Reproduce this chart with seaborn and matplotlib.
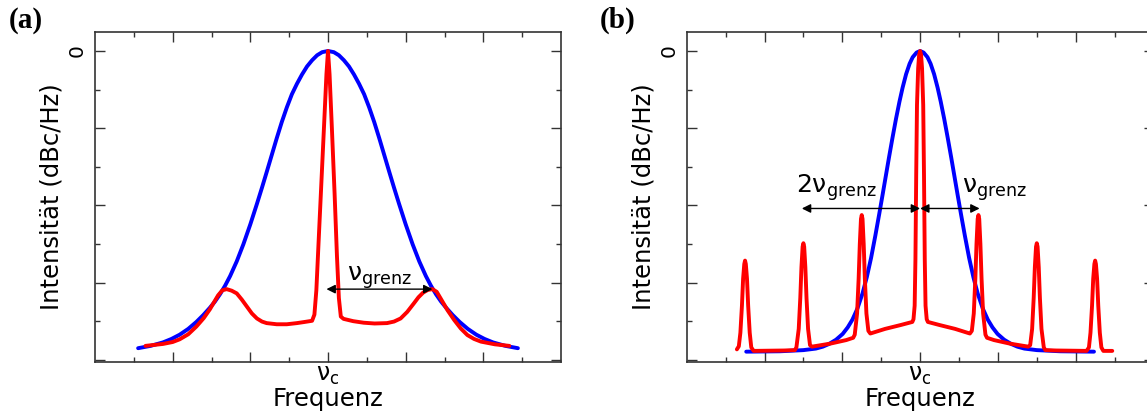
import matplotlib
matplotlib.use("Agg")
import matplotlib.pyplot as plt
import seaborn as sns

# ---------------- data (x in units of tick spacing around nu_c, y in dB) ----------------
blue_a_x = [-4.89, -4.57, -4.25, -4.03, -3.82, -3.60, -3.39, -3.21, -3.04, -2.91, -2.78, -2.65,
            -2.52, -2.35, -2.18, -2.00, -1.83, -1.70, -1.58, -1.45, -1.32, -1.19, -1.06, -0.93,
            -0.80, -0.67, -0.54, -0.41, -0.28, -0.15, 0.00,
            0.15, 0.28, 0.41, 0.54, 0.67, 0.80, 0.93, 1.06, 1.19, 1.32, 1.45, 1.58, 1.70, 1.83,
            2.00, 2.18, 2.35, 2.52, 2.65, 2.78, 2.91, 3.04, 3.21, 3.39, 3.60, 3.82, 4.03, 4.25,
            4.57, 4.89]
blue_a_y = [-77.0, -76.4, -75.5, -74.6, -73.5, -72.0, -70.2, -68.4, -66.5, -64.9, -63.0, -60.8,
            -58.3, -54.5, -50.1, -44.9, -39.6, -35.4, -31.4, -27.0, -22.6, -18.4, -14.6, -11.2,
            -8.5, -6.1, -4.0, -2.4, -1.1, -0.3, 0.0,
            -0.3, -1.1, -2.4, -4.0, -6.1, -8.5, -11.2, -14.6, -18.4, -22.6, -27.0, -31.4, -35.4,
            -39.6, -44.9, -50.1, -54.5, -58.3, -60.8, -63.0, -64.9, -66.5, -68.4, -70.2, -72.0,
            -73.5, -74.6, -75.5, -76.4, -77.0]

red_a_x = [-4.70, -4.25, -4.00, -3.82, -3.60, -3.39, -3.20, -3.04, -2.93, -2.83, -2.72, -2.61,
           -2.48, -2.35, -2.22, -2.09, -1.96, -1.83, -1.70, -1.58, -1.32, -1.06, -0.80, -0.60,
           -0.41, -0.35, -0.30, -0.24, -0.17, -0.10, -0.04, 0.00, 0.04, 0.10, 0.17, 0.23, 0.28,
           0.33, 0.40, 0.65, 0.92, 1.20, 1.52, 1.70, 1.87, 2.04, 2.21, 2.33, 2.45, 2.57, 2.69,
           2.80, 2.90, 3.08, 3.25, 3.42, 3.59, 3.76, 3.94, 4.30, 4.67]
red_a_y = [-76.4, -75.9, -75.4, -74.7, -73.4, -71.4, -69.2, -66.9, -65.0, -63.3, -62.0, -61.7,
           -62.1, -62.8, -64.4, -66.2, -68.0, -69.3, -70.1, -70.5, -70.8, -70.8, -70.5, -70.2,
           -69.9, -68.3, -62.0, -49.0, -34.0, -19.0, -6.0, 0.0, -6.0, -20.0, -37.0, -53.0, -64.0,
           -68.8, -69.4, -70.0, -70.4, -70.6, -70.5, -70.1, -69.3, -67.6, -65.4, -63.8, -62.6,
           -61.9, -61.7, -62.4, -64.1, -67.2, -69.7, -71.9, -73.6, -74.6, -75.3, -76.0, -76.4]

blue_b_x = [-4.47, -3.60, -3.00, -2.68, -2.50, -2.34, -2.16, -1.99, -1.86, -1.74, -1.61, -1.48,
            -1.37, -1.26, -1.15, -1.05, -0.96, -0.88, -0.80, -0.71, -0.62, -0.53, -0.45, -0.36,
            -0.27, -0.19, -0.09, 0.00,
            0.09, 0.19, 0.27, 0.36, 0.45, 0.53, 0.62, 0.71, 0.80, 0.88, 0.96, 1.05, 1.15, 1.26,
            1.37, 1.48, 1.61, 1.74, 1.86, 1.99, 2.16, 2.34, 2.50, 2.68, 3.00, 3.60, 4.47]
blue_b_y = [-77.9, -77.8, -77.5, -77.1, -76.6, -75.9, -74.8, -73.3, -71.6, -69.6, -66.7, -62.8,
            -58.6, -53.6, -47.8, -42.2, -37.0, -32.3, -27.6, -22.5, -17.6, -13.1, -9.5, -6.0,
            -3.3, -1.6, -0.4, 0.0,
            -0.4, -1.6, -3.3, -6.0, -9.5, -13.1, -17.6, -22.5, -27.6, -32.3, -37.0, -42.2, -47.8,
            -53.6, -58.6, -62.8, -66.7, -69.6, -71.6, -73.3, -74.8, -75.9, -76.6, -77.1, -77.5,
            -77.8, -77.9]

red_b_x = [-4.71, -4.66, -4.62, -4.58, -4.55, -4.52, -4.50, -4.48, -4.45, -4.42, -4.38, -4.34, -4.28,
           -3.50, -3.22,
           -3.18, -3.12, -3.08, -3.05, -3.02, -3.00, -2.98, -2.95, -2.92, -2.88, -2.83, -2.78,
           -2.30, -1.90, -1.72,
           -1.68, -1.62, -1.58, -1.55, -1.52, -1.50, -1.48, -1.45, -1.42, -1.38, -1.33, -1.28,
           -0.90, -0.50, -0.20,
           -0.17, -0.14, -0.12, -0.10, -0.08, -0.05, -0.025, 0.00, 0.025, 0.05, 0.08, 0.10, 0.12, 0.14, 0.17,
           0.20, 0.50, 0.90,
           1.28, 1.33, 1.38, 1.42, 1.45, 1.48, 1.50, 1.52, 1.55, 1.58, 1.62, 1.68,
           1.72, 1.90, 2.30,
           2.78, 2.83, 2.88, 2.92, 2.95, 2.98, 3.00, 3.02, 3.05, 3.08, 3.12, 3.18,
           3.22, 3.50,
           4.28, 4.34, 4.38, 4.42, 4.45, 4.48, 4.50, 4.52, 4.55, 4.58, 4.62, 4.66, 4.71,
           4.94]
red_b_y = [-77.3, -76.5, -73.0, -66.0, -59.0, -55.2, -54.3, -55.2, -59.0, -66.0, -73.0, -76.8, -77.7,
           -77.6, -77.5,
           -76.8, -72.0, -64.0, -56.0, -50.7, -49.8, -50.7, -56.0, -64.0, -72.0, -76.2, -76.6,
           -75.8, -74.9, -74.3,
           -73.5, -68.0, -59.0, -50.0, -43.5, -42.5, -43.5, -50.0, -59.0, -68.0, -72.5, -73.2,
           -72.0, -71.0, -70.2,
           -69.5, -66.0, -54.0, -32.0, -14.0, -4.5, -1.0, 0.0, -1.0, -4.5, -14.0, -32.0, -54.0, -66.0, -69.5,
           -70.2, -71.0, -72.0,
           -73.2, -72.5, -68.0, -59.0, -50.0, -43.5, -42.5, -43.5, -50.0, -59.0, -68.0, -73.5,
           -74.3, -74.9, -75.8,
           -76.6, -76.2, -72.0, -64.0, -56.0, -50.7, -49.8, -50.7, -56.0, -64.0, -72.0, -76.8,
           -77.5, -77.6,
           -77.7, -76.8, -73.0, -66.0, -59.0, -55.2, -54.3, -55.2, -59.0, -66.0, -73.0, -76.8, -77.7,
           -77.7]

x_major = [-4, -2, 0, 2, 4]
x_major_labels = ["", "", r"$\mathregular{\nu_c}$", "", ""]
x_minor = [-5, -3, -1, 1, 3, 5]
y_major = [-80, -60, -40, -20, 0]
y_major_labels = ["", "", "", "", "0"]
y_minor = [-70, -50, -30, -10]

xlabel = "Frequenz"
ylabel = "Intensität (dBc/Hz)"

# ---------------- style ----------------
sns.set_theme(style="ticks")
plt.rcParams["font.family"] = ["DejaVu Sans"]
plt.rcParams["mathtext.fontset"] = "dejavusans"
plt.rcParams["text.color"] = "black"
plt.rcParams["axes.labelcolor"] = "black"
plt.rcParams["xtick.labelcolor"] = "black"
plt.rcParams["ytick.labelcolor"] = "black"

W, H = 1147, 412
fig = plt.figure(figsize=(W / 100, H / 100), dpi=100)
ax_a = fig.add_axes([95 / W, 50.3 / H, 466 / W, 330 / H])
ax_b = fig.add_axes([686.7 / W, 50.3 / H, 466.8 / W, 330 / H])

BLUE = "#0000ff"
RED = "#ff0000"
LW = 2.8

for ax, bx, by, rx, ry in [(ax_a, blue_a_x, blue_a_y, red_a_x, red_a_y),
                           (ax_b, blue_b_x, blue_b_y, red_b_x, red_b_y)]:
    sns.lineplot(x=bx, y=by, ax=ax, color=BLUE, lw=LW, sort=False, estimator=None)
    sns.lineplot(x=rx, y=ry, ax=ax, color=RED, lw=LW, sort=False, estimator=None)
    for ln in ax.lines:
        ln.set_solid_joinstyle("round")
    ax.set_xlim(-6, 6)
    ax.set_ylim(-80.5, 5)
    ax.set_xticks(x_major)
    ax.set_xticklabels(x_major_labels)
    ax.set_xticks(x_minor, minor=True)
    ax.set_yticks(y_major)
    ax.set_yticklabels(y_major_labels)
    ax.set_yticks(y_minor, minor=True)
    ax.tick_params(which="both", direction="in", top=True, right=True, color="#333333")
    ax.tick_params(which="major", length=7, width=1.0)
    ax.tick_params(which="minor", length=3.6, width=1.0)
    ax.tick_params(axis="x", which="major", pad=1, labelsize=17)
    ax.tick_params(axis="y", which="major", pad=6, labelsize=14.5, labelrotation=90)
    for s in ax.spines.values():
        s.set_color("#333333")
        s.set_linewidth(1.2)
    ax.set_xlabel(xlabel, fontsize=17.5, labelpad=0)
    ax.set_ylabel(ylabel, fontsize=17.5, labelpad=3)
    for lab in ax.get_yticklabels():
        lab.set_va("center")

arrow_kw = dict(arrowstyle="<|-|>", color="black", lw=1.0, mutation_scale=13,
                shrinkA=0, shrinkB=0)

# panel (a) annotation
ax_a.annotate("", xy=(2.69, -61.7), xytext=(-0.04, -61.7), arrowprops=arrow_kw)
ax_a.text(1.33, -59.6, r"$\mathregular{\nu_{grenz}}$", ha="center", va="baseline", fontsize=18)

# panel (b) annotations
ax_b.annotate("", xy=(-3.04, -40.8), xytext=(0.0, -40.8), arrowprops=arrow_kw)
ax_b.annotate("", xy=(1.53, -40.8), xytext=(0.0, -40.8), arrowprops=arrow_kw)
ax_b.text(-2.16, -36.8, r"$\mathregular{2\nu_{grenz}}$", ha="center", va="baseline", fontsize=18)
ax_b.text(1.91, -36.8, r"$\mathregular{\nu_{grenz}}$", ha="center", va="baseline", fontsize=18)

fig.text(9 / W, 1 - 7 / H, "(a)", family="Liberation Serif", fontweight="bold",
         fontsize=21, ha="left", va="top")
fig.text(600 / W, 1 - 7 / H, "(b)", family="Liberation Serif", fontweight="bold",
         fontsize=21, ha="left", va="top")

fig.savefig("out.png", dpi=100)
